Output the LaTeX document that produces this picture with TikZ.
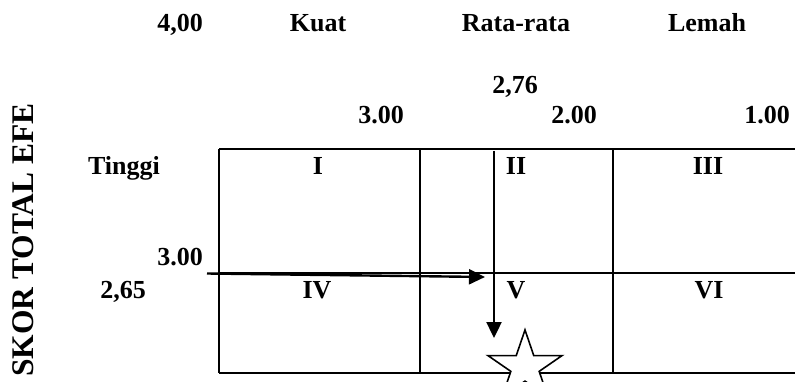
\documentclass[tikz,border=0pt]{standalone}
\usepackage{fontspec}
\setmainfont{Liberation Serif}
\usetikzlibrary{arrows.meta,shapes.geometric}
\begin{document}
\begin{tikzpicture}[x=1pt,y=-1pt,
  lbl/.style={font=\fontsize{26}{30}\selectfont\bfseries,anchor=base,inner sep=0pt},
  gridline/.style={line width=2.2pt},
  arr/.style={line width=2.4pt,-{Triangle[length=16pt,width=15pt]}}]
\useasboundingbox (0,0) rectangle (795,382);
% grid
\draw[gridline] (219,149) -- (795,149);
\draw[gridline] (219,273) -- (795,273);
\draw[gridline] (219,373) -- (795,373);
\draw[gridline] (219,149) -- (219,373);
\draw[gridline] (420,149) -- (420,373);
\draw[gridline] (613,149) -- (613,373);
% labels
\node[lbl] (a400) at (180,32) {4,00};
\node[lbl] (kuat) at (318,32) {Kuat};
\node[lbl] (rata) at (516,32) {Rata-rata};
\node[lbl] (lemah) at (707,32) {Lemah};
\node[lbl] (a276) at (515,94) {2,76};
\node[lbl] (t300) at (381,124) {3.00};
\node[lbl] (t200) at (574,124) {2.00};
\node[lbl] (t100) at (767,124) {1.00};
\node[lbl] (tinggi) at (124,175) {Tinggi};
\node[lbl] (c1) at (318,175) {I};
\node[lbl] (c2) at (516,175) {II};
\node[lbl] (c3) at (708,175) {III};
\node[lbl] (l300) at (180,265) {3.00};
\node[lbl] (l265) at (123,298) {2,65};
\node[lbl] (c4) at (317,298) {IV};
\node[lbl] (c5) at (516,298) {V};
\node[lbl] (c6) at (709,298) {VI};
\node[font=\fontsize{31.5}{34}\selectfont\bfseries,rotate=90,anchor=base,inner sep=0pt] (skor) at (33,240) {SKOR TOTAL EFE};
% arrows
\coordinate (hs) at (207,273.5);
\coordinate (he) at (485,277);
\coordinate (vs) at (494,151);
\coordinate (ve) at (494,338);
\draw[arr] (hs) -- (he);
\draw[arr] (vs) -- (ve);
% star
\node[star,star points=5,star point ratio=2.618,draw,line width=1.6pt,fill=white,minimum size=78pt,inner sep=0pt,outer sep=0pt,yscale=0.95] (star) at (525,367) {};
\end{tikzpicture}
\end{document}
